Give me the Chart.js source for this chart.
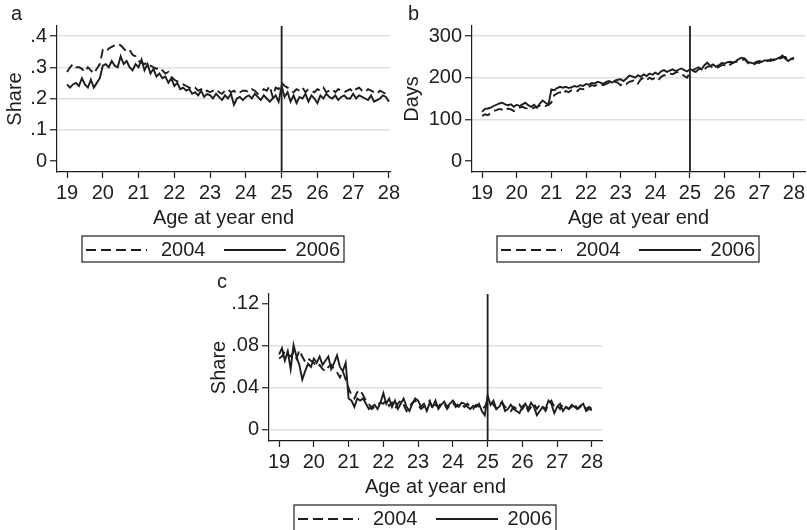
<!DOCTYPE html>
<html>
<head>
<meta charset="utf-8">
<script src="https://cdn.jsdelivr.net/npm/chart.js@4"></script>
<style>
  body { margin: 0; background: #fff; }
  canvas { position: absolute; }
</style>
</head>
<body>
<canvas id="chartA" width="400" height="265" style="left:0;top:0"></canvas>
<canvas id="chartB" width="407" height="265" style="left:400px;top:0"></canvas>
<canvas id="chartC" width="410" height="265" style="left:200px;top:265px"></canvas>
<script>
// monthly points, age 19 to 28
const ages = Array.from({length: 109}, (v, i) => 19 + i / 12);
const seriesNames = ['2004', '2006'];
const xTicks = [19, 20, 21, 22, 23, 24, 25, 26, 27, 28];
const xTickLabels = ['19', '20', '21', '22', '23', '24', '25', '26', '27', '28'];

// panel a: share
const aTicks = [0, 0.1, 0.2, 0.3, 0.4];
const aTickLabels = ['0', '.1', '.2', '.3', '.4'];
const a2004 = [
  .285,.30,.31,.30,.30,.295,.285,.30,.29,.28,.295,.31,
  .355,.35,.36,.365,.37,.375,.37,.36,.35,.355,.34,.335,
  .32,.315,.31,.315,.305,.30,.295,.30,.29,.28,.285,.27,
  .26,.255,.25,.245,.24,.235,.23,.235,.225,.23,.22,.225,
  .22,.225,.23,.22,.215,.225,.23,.22,.225,.215,.22,.225,
  .225,.22,.23,.225,.215,.22,.23,.225,.24,.205,.235,.23,
  .25,.24,.235,.225,.22,.23,.225,.235,.22,.23,.225,.22,
  .23,.225,.235,.22,.225,.23,.22,.23,.225,.22,.225,.23,
  .22,.23,.235,.225,.22,.23,.225,.22,.215,.225,.22,.215,
  .225];
const a2006 = [
  .245,.235,.245,.25,.24,.265,.245,.235,.26,.235,.25,.265,
  .305,.31,.30,.32,.305,.30,.335,.31,.32,.30,.29,.31,
  .30,.325,.29,.31,.28,.295,.27,.28,.265,.27,.25,.265,
  .24,.25,.23,.235,.225,.23,.215,.22,.21,.225,.205,.215,
  .21,.20,.215,.205,.195,.21,.20,.215,.18,.20,.205,.195,
  .205,.21,.20,.215,.205,.195,.21,.20,.19,.20,.21,.19,
  .24,.205,.22,.19,.21,.185,.205,.20,.215,.19,.21,.20,
  .185,.21,.20,.215,.205,.20,.21,.195,.205,.21,.20,.20,
  .215,.20,.21,.205,.20,.195,.21,.19,.195,.20,.21,.205,
  .19];

// panel b: days
const bTicks = [0, 100, 200, 300];
const bTickLabels = ['0', '100', '200', '300'];
const b2004 = [
  108,112,110,115,120,122,125,123,120,126,124,120,
  125,128,130,127,125,124,128,130,133,136,132,135,
  140,158,162,165,160,168,165,170,172,168,174,172,
  176,178,182,180,184,186,182,185,188,186,190,188,
  182,188,185,190,192,195,186,196,200,194,200,196,
  200,194,202,206,205,210,208,212,214,210,204,200,
  212,216,214,220,222,220,226,228,224,222,226,230,
  230,226,232,236,238,240,242,244,236,232,230,236,
  235,240,238,242,240,244,243,246,248,250,242,244,
  246];
const b2006 = [
  118,125,126,128,132,135,138,140,136,134,136,130,
  135,132,136,140,134,130,135,128,138,145,140,135,
  172,170,175,178,176,178,175,177,180,178,182,180,
  185,183,187,186,190,188,185,190,192,188,193,195,
  196,192,198,205,203,200,206,202,208,204,210,207,
  212,208,215,218,214,217,220,216,219,222,218,215,
  220,218,222,225,220,230,236,228,232,226,230,235,
  234,237,238,236,240,245,248,246,238,236,234,238,
  240,238,242,240,244,242,245,248,253,246,240,245,
  248];

// panel c: share
const cTicks = [0, 0.04, 0.08, 0.12];
const cTickLabels = ['0', '.04', '.08', '.12'];
const c2004 = [
  .068,.07,.075,.072,.07,.074,.068,.076,.07,.065,.068,.066,
  .064,.06,.062,.058,.056,.06,.062,.058,.055,.05,.056,.048,
  .04,.033,.03,.036,.038,.033,.028,.025,.02,.022,.024,.026,
  .025,.028,.023,.026,.02,.025,.028,.024,.018,.022,.026,.028,
  .024,.02,.022,.025,.028,.02,.024,.022,.026,.025,.02,.024,
  .026,.022,.025,.024,.022,.025,.022,.02,.024,.022,.02,.022,
  .028,.026,.024,.02,.025,.026,.022,.02,.018,.022,.02,.024,
  .02,.024,.018,.022,.025,.02,.024,.022,.018,.025,.028,.022,
  .024,.02,.025,.022,.02,.022,.025,.02,.022,.024,.02,.022,
  .02];
const c2006 = [
  .072,.078,.066,.075,.058,.081,.07,.062,.048,.056,.063,.06,
  .068,.064,.07,.062,.066,.07,.058,.064,.071,.06,.056,.064,
  .03,.028,.022,.03,.028,.03,.025,.02,.022,.024,.02,.026,
  .035,.025,.03,.022,.028,.02,.025,.03,.022,.018,.025,.03,
  .028,.022,.025,.018,.026,.022,.028,.02,.024,.027,.022,.025,
  .028,.024,.022,.026,.025,.022,.02,.023,.022,.025,.018,.014,
  .033,.024,.028,.02,.022,.027,.018,.02,.024,.02,.018,.016,
  .022,.025,.02,.026,.022,.014,.018,.022,.02,.028,.025,.016,
  .022,.025,.018,.022,.02,.024,.022,.02,.023,.025,.018,.02,
  .019];

const cutoffAge = 25;
const ink = '#1e1e1e';
const gridColor = 'rgb(212,227,231)';
const font = {family: "'Liberation Sans', Arial, sans-serif", size: 20};

function points(vals) {
  return vals.map((v, i) => ({x: ages[i], y: vals[i]}));
}

// panel letter, cutoff line and framed legend
function extras(letter, lx, ly) {
  return {
    id: 'extras' + letter,
    afterDatasetsDraw(chart) {
      const ctx = chart.ctx, ca = chart.chartArea;
      const xv = chart.scales.x.getPixelForValue(cutoffAge);
      ctx.save();
      ctx.strokeStyle = ink;
      ctx.lineWidth = 1.8;
      ctx.beginPath();
      ctx.moveTo(xv, ca.top);
      ctx.lineTo(xv, ca.bottom);
      ctx.stroke();

      ctx.fillStyle = ink;
      ctx.font = font.size + 'px ' + font.family;
      ctx.textBaseline = 'alphabetic';
      ctx.textAlign = 'left';
      ctx.fillText(letter, lx, ly);

      const w = 262, h = 26;
      const bx = (ca.left + ca.right) / 2 - 10.5 - w / 2;
      const by = ca.bottom + 64;
      const my = by + 14;
      ctx.lineWidth = 1.2;
      ctx.strokeRect(bx, by, w, h);
      ctx.lineWidth = 1.8;
      ctx.setLineDash([10, 5]);
      ctx.beginPath();
      ctx.moveTo(bx + 4, my);
      ctx.lineTo(bx + 65, my);
      ctx.stroke();
      ctx.setLineDash([]);
      ctx.beginPath();
      ctx.moveTo(bx + 142, my);
      ctx.lineTo(bx + 204, my);
      ctx.stroke();
      ctx.textBaseline = 'middle';
      ctx.fillText(seriesNames[0], bx + 79, my);
      ctx.textAlign = 'right';
      ctx.fillText(seriesNames[1], bx + w - 4, my);
      ctx.restore();
    }
  };
}

function makePanel(id, p) {
  const config = {
    type: 'line',
    data: {
      datasets: [{
        label: seriesNames[0],
        data: points(p.s2004),
        borderColor: ink,
        borderWidth: 1.9,
        borderDash: [9, 5],
        pointRadius: 0
      }, {
        label: seriesNames[1],
        data: points(p.s2006),
        borderColor: ink,
        borderWidth: 1.9,
        pointRadius: 0
      }]
    },
    options: {
      responsive: false,
      animation: false,
      layout: {padding: {top: p.top, right: p.right, left: 0, bottom: 0}},
      plugins: {legend: {display: false}, tooltip: {enabled: false}},
      scales: {
        x: {
          type: 'linear',
          min: p.xmin,
          max: p.xmax,
          afterBuildTicks: s => { s.ticks = xTicks.map(v => ({value: v})); },
          afterFit: s => { s.height = p.xh; s.paddingLeft = 0; s.paddingRight = 0; },
          ticks: {callback: (v, i) => xTickLabels[i], autoSkip: false, maxRotation: 0, padding: 3, color: ink, font: font},
          grid: {drawOnChartArea: false, tickColor: ink, tickLength: 6, tickWidth: 1.2},
          border: {color: ink, width: 1.2},
          title: {display: true, text: 'Age at year end', color: ink, font: font, padding: {top: 0, bottom: p.titleGap}}
        },
        y: {
          type: 'linear',
          min: p.ymin,
          max: p.ymax,
          afterBuildTicks: s => { s.ticks = p.ticks.map(v => ({value: v})); },
          afterFit: s => { s.width = p.yw; s.paddingTop = 0; s.paddingBottom = 0; },
          ticks: {callback: (v, i) => p.tickLabels[i], padding: 3, color: ink, font: font},
          grid: {
            color: ctx => (ctx.tick && p.noGrid.includes(ctx.tick.value)) ? 'rgba(0,0,0,0)' : gridColor,
            lineWidth: 1.5,
            tickColor: ink,
            tickLength: 7,
            tickWidth: 1.2
          },
          border: {color: ink, width: 1.2},
          title: {display: true, text: p.ytitle, color: ink, font: font, padding: {top: p.ytPad, bottom: 0}}
        }
      }
    },
    plugins: [extras(p.letter, p.lx, p.ly)]
  };
  new Chart(document.getElementById(id).getContext('2d'), config);
}

makePanel('chartA', {
  s2004: a2004, s2006: a2006, ticks: aTicks, tickLabels: aTickLabels, noGrid: [0],
  ytitle: 'Share', letter: 'a', lx: 11, ly: 20,
  xmin: 18.72, xmax: 28.03, ymin: -0.0352, ymax: 0.432,
  top: 26, right: 10, yw: 57, xh: 93, titleGap: 35, ytPad: 3
});
makePanel('chartB', {
  s2004: b2004, s2006: b2006, ticks: bTicks, tickLabels: bTickLabels, noGrid: [0],
  ytitle: 'Days', letter: 'b', lx: 8, ly: 20,
  xmin: 18.71, xmax: 28.32, ymin: -26.4, ymax: 324,
  top: 26, right: 2, yw: 72, xh: 93, titleGap: 35, ytPad: 0
});
makePanel('chartC', {
  s2004: c2004, s2006: c2006, ticks: cTicks, tickLabels: cTickLabels, noGrid: [0.12],
  ytitle: 'Share', letter: 'c', lx: 17, ly: 23,
  xmin: 18.71, xmax: 28.29, ymin: -0.0105, ymax: 0.1295,
  top: 29, right: 8, yw: 69, xh: 89, titleGap: 31, ytPad: 7
});
</script>
</body>
</html>
